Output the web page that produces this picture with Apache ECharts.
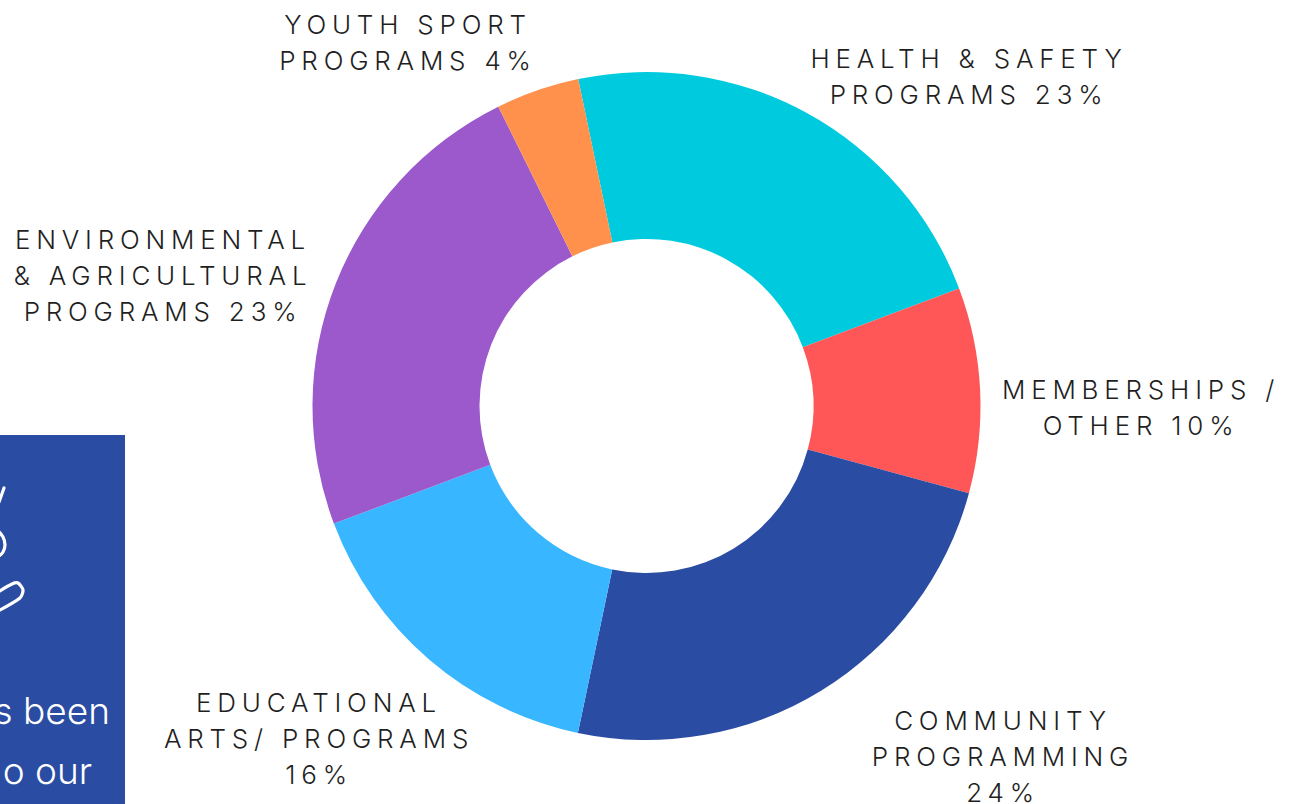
<!DOCTYPE html>
<html>
<head>
<meta charset="utf-8">
<style>
html,body{margin:0;padding:0;background:#fff;}
#c{width:1295px;height:804px;}
#c svg text{letter-spacing:5.8px;}
#c svg text[fill="#fff"],#c svg text[fill="rgb(255,255,255)"]{letter-spacing:0;}
</style>
<script src="https://cdn.jsdelivr.net/npm/echarts@6/dist/echarts.min.js"></script>
</head>
<body>
<div id="c"></div>
<script>
const categories = ['HEALTH & SAFETY\nPROGRAMS 23%','MEMBERSHIPS /\nOTHER 10%','COMMUNITY\nPROGRAMMING\n24%','EDUCATIONAL\nARTS/ PROGRAMS\n16%','ENVIRONMENTAL\n& AGRICULTURAL\nPROGRAMS 23%','YOUTH SPORT\nPROGRAMS 4%'];
const values = [22.55, 9.93, 24.09, 15.98, 23.41, 4.04];
const colors = ['#00CBDE','#FF5757','#2A4CA2','#38B6FF','#9B59CC','#FF914D'];
const labelCentres = [[969,76.5],[1141,407.5],[1003,756.5],[319,738.5],[163,275],[408,42]];

const chart = echarts.init(document.getElementById('c'), null, {renderer:'svg'});
const stroke = {stroke:'#fff',lineWidth:3.2,fill:null,lineCap:'round'};
chart.setOption({
  animation:false,
  backgroundColor:'#ffffff',
  graphic:[
    {type:'rect',z:1,shape:{x:0,y:435,width:125,height:369},style:{fill:'#2A4CA2'}},
    {type:'line',z:2,shape:{x1:4,y1:488,x2:-1,y2:502},style:stroke},
    {type:'polyline',z:2,shape:{points:[[-3,530],[3,537],[5,545],[3,552],[-1,556]],smooth:0.4},style:stroke},
    {type:'polyline',z:2,shape:{points:[[-2,611],[20,598],[23,590],[18,583],[12,584],[-2,592]],smooth:0.25},style:stroke},
    {type:'text',z:2,style:{x:110,y:710,text:'s been',fill:'#fff',font:'300 37px Inter, sans-serif',textAlign:'right',textVerticalAlign:'middle'}},
    {type:'text',z:2,style:{x:92,y:770,text:'o our',fill:'#fff',font:'300 37px Inter, sans-serif',textAlign:'right',textVerticalAlign:'middle'}}
  ],
  series:[{
    type:'pie',
    z:3,
    center:[646.5,406],
    radius:[167,334],
    startAngle:101.8,
    clockwise:true,
    avoidLabelOverlap:false,
    data:categories.map((n,i)=>({name:n,value:values[i],itemStyle:{color:colors[i]}})),
    label:{show:true,position:'outside',formatter:'{b}',color:'#1f1f1f',fontFamily:'Inter',fontWeight:300,fontSize:26,lineHeight:36,align:'center'},
    labelLine:{show:false},
    labelLayout:p=>({x:labelCentres[p.dataIndex][0],y:labelCentres[p.dataIndex][1],align:'center',verticalAlign:'middle'}),
    emphasis:{disabled:true}
  }]
});
</script>
</body>
</html>
